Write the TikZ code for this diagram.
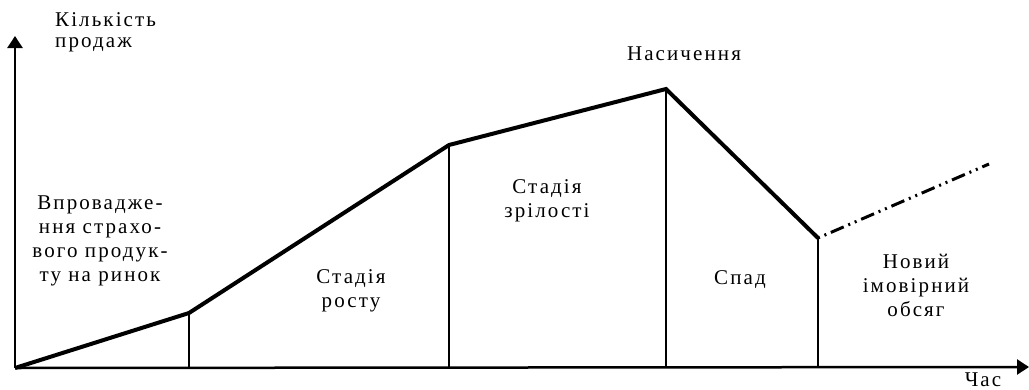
\documentclass[tikz,border=0pt]{standalone}
\usepackage{fontspec}
\setmainfont{Liberation Serif}[LetterSpace=10]
\usetikzlibrary{arrows.meta}
\tikzset{
  axis/.style={line width=2.5pt,-{Triangle[length=12pt,width=15pt]}},
  curve/.style={line width=4pt,line join=miter},
  divider/.style={line width=1.8pt},
  forecast/.style={line width=3pt,dash pattern=on 2pt off 5pt on 2pt off 5pt on 14pt off 5pt},
  lbl/.style={inner sep=0pt,anchor=base,align=center,font=\fontsize{21}{24}\selectfont},
}
\begin{document}
\begin{tikzpicture}[x=1pt,y=-1pt]
\useasboundingbox (0,0) rectangle (1029,389);
% points
\coordinate (O) at (15,368);
\coordinate (ytip) at (15,36);
\coordinate (xtip) at (1029,367);
\coordinate (p1) at (189,313);
\coordinate (p2) at (449,145);
\coordinate (p3) at (666,89);
\coordinate (p4) at (818,238);
\coordinate (p5) at (989,164);
\coordinate (b1) at (189,368);
\coordinate (b2) at (449,368);
\coordinate (b3) at (666,368);
\coordinate (b4) at (818,368);
% axes
\draw[axis] (O) -- (ytip);
\draw[axis] (O) -- (xtip);
% dividers
\draw[divider] (p1) -- (b1);
\draw[divider] (p2) -- (b2);
\draw[divider] (p3) -- (b3);
\draw[divider] (p4) -- (b4);
% curve
\draw[curve] (O) -- (p1) -- (p2) -- (p3) -- (p4);
\draw[forecast] (p4) -- (p5);
% labels (base anchor = baseline of the last line)
\node[lbl,anchor=base west,align=left,font=\fontsize{21}{21}\selectfont] (ylab) at (55,47) {Кількість\\продаж};
\node[lbl] (xlab) at (983,386) {Час};
\node[lbl] (sat) at (684,60) {Насичення};
\node[lbl] (intro) at (100,281) {Впровадже-\\ння страхо-\\вого продук-\\ту на ринок};
\node[lbl] (growth) at (351,307) {Стадія\\росту};
\node[lbl] (mature) at (547,217) {Стадія\\зрілості};
\node[lbl] (decline) at (740,284) {Спад};
\node[lbl] (newvol) at (916,316) {Новий\\імовірний\\обсяг};
\end{tikzpicture}
\end{document}
